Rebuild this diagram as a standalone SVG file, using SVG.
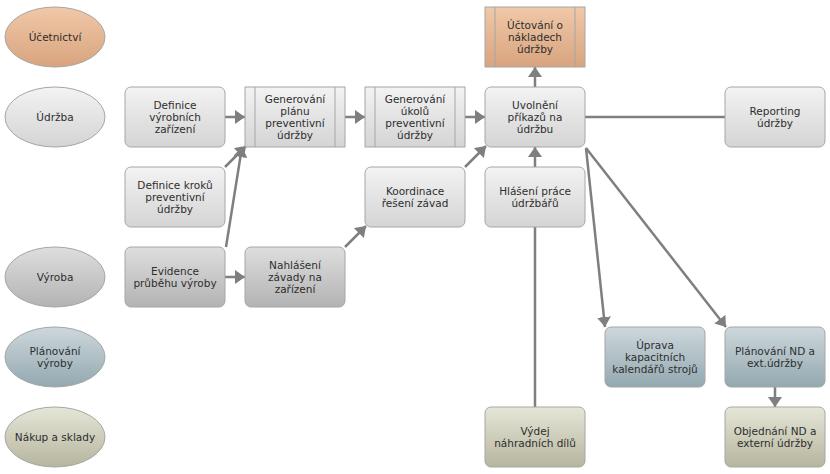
<svg xmlns="http://www.w3.org/2000/svg" width="830" height="474" viewBox="0 0 830 474">
<defs>
<linearGradient id="gGray" x1="0" y1="0" x2="0" y2="1"><stop offset="0" stop-color="#f3f3f3"/><stop offset="1" stop-color="#d4d4d4"/></linearGradient>
<linearGradient id="gDark" x1="0" y1="0" x2="0" y2="1"><stop offset="0" stop-color="#dedede"/><stop offset="1" stop-color="#b3b3b3"/></linearGradient>
<linearGradient id="gOrange" x1="0" y1="0" x2="0" y2="1"><stop offset="0" stop-color="#f0c8a8"/><stop offset="1" stop-color="#d8a47e"/></linearGradient>
<linearGradient id="gBlue" x1="0" y1="0" x2="0" y2="1"><stop offset="0" stop-color="#cdd8dc"/><stop offset="1" stop-color="#93a8b0"/></linearGradient>
<linearGradient id="gKhaki" x1="0" y1="0" x2="0" y2="1"><stop offset="0" stop-color="#e6e6d8"/><stop offset="1" stop-color="#b6b59e"/></linearGradient>
<marker id="arr" markerUnits="userSpaceOnUse" markerWidth="11" markerHeight="14" refX="10" refY="7" orient="auto"><path d="M0,0 L10,7 L0,14 z" fill="#7f7f7f"/></marker>
</defs>
<style>
.n{stroke:#a6a6a6;stroke-width:1}
.pl{stroke:#a6a6a6;stroke-width:1;fill:none}
text{font-family:"DejaVu Sans",Verdana,sans-serif;font-size:10.5px;fill:#2e2e2e;text-anchor:middle}
.c{stroke:#7f7f7f;stroke-width:2.5;fill:none}
.ca{stroke:#7f7f7f;stroke-width:2.5;fill:none;marker-end:url(#arr)}
</style>
<rect width="830" height="474" fill="#fff"/>

<g id="connectors">
<line class="ca" x1="225" y1="117" x2="245" y2="117"/>
<line class="ca" x1="345" y1="117" x2="365" y2="117"/>
<line class="ca" x1="465" y1="117" x2="485" y2="117"/>
<line class="ca" x1="535" y1="87" x2="535" y2="67"/>
<line class="c" x1="585" y1="117" x2="725" y2="117"/>
<line class="ca" x1="225" y1="167" x2="246" y2="146"/>
<line class="ca" x1="226" y1="247" x2="242" y2="147"/>
<line class="ca" x1="225" y1="277" x2="245" y2="277"/>
<line class="ca" x1="345" y1="247" x2="366" y2="226"/>
<line class="ca" x1="465" y1="167" x2="486" y2="146"/>
<line class="ca" x1="535" y1="167" x2="535" y2="147"/>
<line class="c" x1="535" y1="227" x2="535" y2="407"/>
<line class="ca" x1="586" y1="148" x2="605" y2="327"/>
<line class="ca" x1="586" y1="148" x2="726" y2="327"/>
<line class="ca" x1="775" y1="387" x2="775" y2="407"/>
</g>

<g id="lane-ucetnictvi"><ellipse class="n" cx="55" cy="37" rx="50" ry="30" fill="url(#gOrange)"/><text x="55" y="41">Účetnictví</text></g>
<g id="lane-udrzba"><ellipse class="n" cx="55" cy="117" rx="50" ry="30" fill="url(#gGray)"/><text x="55" y="121">Údržba</text></g>
<g id="lane-vyroba"><ellipse class="n" cx="55" cy="277" rx="50" ry="30" fill="url(#gDark)"/><text x="55" y="281">Výroba</text></g>
<g id="lane-planovani"><ellipse class="n" cx="55" cy="357" rx="50" ry="30" fill="url(#gBlue)"/><text x="55" y="355">Plánování</text><text x="55" y="367">výroby</text></g>
<g id="lane-nakup"><ellipse class="n" cx="55" cy="437" rx="50" ry="30" fill="url(#gKhaki)"/><text x="55" y="441">Nákup a sklady</text></g>

<g id="uctovani"><rect class="n" x="485" y="7" width="100" height="60" fill="url(#gOrange)"/><line class="pl" x1="495" y1="7" x2="495" y2="67"/><line class="pl" x1="575" y1="7" x2="575" y2="67"/><text x="535" y="29">Účtování o</text><text x="535" y="41">nákladech</text><text x="535" y="53">údržby</text></g>

<g id="definice-zarizeni"><rect class="n" x="125" y="87" width="100" height="60" rx="6" fill="url(#gGray)"/><text x="175" y="109">Definice</text><text x="175" y="121">výrobních</text><text x="175" y="133">zařízení</text></g>
<g id="gen-planu"><rect class="n" x="245" y="87" width="100" height="60" fill="url(#gGray)"/><line class="pl" x1="255" y1="87" x2="255" y2="147"/><line class="pl" x1="335" y1="87" x2="335" y2="147"/><text x="295" y="103">Generování</text><text x="295" y="115">plánu</text><text x="295" y="127">preventivní</text><text x="295" y="139">údržby</text></g>
<g id="gen-ukolu"><rect class="n" x="365" y="87" width="100" height="60" fill="url(#gGray)"/><line class="pl" x1="375" y1="87" x2="375" y2="147"/><line class="pl" x1="455" y1="87" x2="455" y2="147"/><text x="415" y="103">Generování</text><text x="415" y="115">úkolů</text><text x="415" y="127">preventivní</text><text x="415" y="139">údržby</text></g>
<g id="uvolneni"><rect class="n" x="485" y="87" width="100" height="60" rx="6" fill="url(#gGray)"/><text x="535" y="109">Uvolnění</text><text x="535" y="121">příkazů na</text><text x="535" y="133">údržbu</text></g>
<g id="reporting"><rect class="n" x="725" y="87" width="100" height="60" rx="6" fill="url(#gGray)"/><text x="775" y="115">Reporting</text><text x="775" y="127">údržby</text></g>

<g id="definice-kroku"><rect class="n" x="125" y="167" width="100" height="60" rx="6" fill="url(#gGray)"/><text x="175" y="189">Definice kroků</text><text x="175" y="201">preventivní</text><text x="175" y="213">údržby</text></g>
<g id="koordinace"><rect class="n" x="365" y="167" width="100" height="60" rx="6" fill="url(#gGray)"/><text x="415" y="195">Koordinace</text><text x="415" y="207">řešení závad</text></g>
<g id="hlaseni"><rect class="n" x="485" y="167" width="100" height="60" rx="6" fill="url(#gGray)"/><text x="535" y="195">Hlášení práce</text><text x="535" y="207">údržbářů</text></g>

<g id="evidence"><rect class="n" x="125" y="247" width="100" height="60" rx="6" fill="url(#gDark)"/><text x="175" y="275">Evidence</text><text x="175" y="287">průběhu výroby</text></g>
<g id="nahlaseni"><rect class="n" x="245" y="247" width="100" height="60" rx="6" fill="url(#gDark)"/><text x="295" y="269">Nahlášení</text><text x="295" y="281">závady na</text><text x="295" y="293">zařízení</text></g>

<g id="uprava"><rect class="n" x="605" y="327" width="100" height="60" rx="6" fill="url(#gBlue)"/><text x="655" y="349">Úprava</text><text x="655" y="361">kapacitních</text><text x="655" y="373">kalendářů strojů</text></g>
<g id="planovani-nd"><rect class="n" x="725" y="327" width="100" height="60" rx="6" fill="url(#gBlue)"/><text x="775" y="355">Plánování ND a</text><text x="775" y="367">ext.údržby</text></g>

<g id="vydej"><rect class="n" x="485" y="407" width="100" height="60" rx="6" fill="url(#gKhaki)"/><text x="535" y="435">Výdej</text><text x="535" y="447">náhradních dílů</text></g>
<g id="objednani"><rect class="n" x="725" y="407" width="100" height="60" rx="6" fill="url(#gKhaki)"/><text x="775" y="435">Objednání ND a</text><text x="775" y="447">externí údržby</text></g>
</svg>
